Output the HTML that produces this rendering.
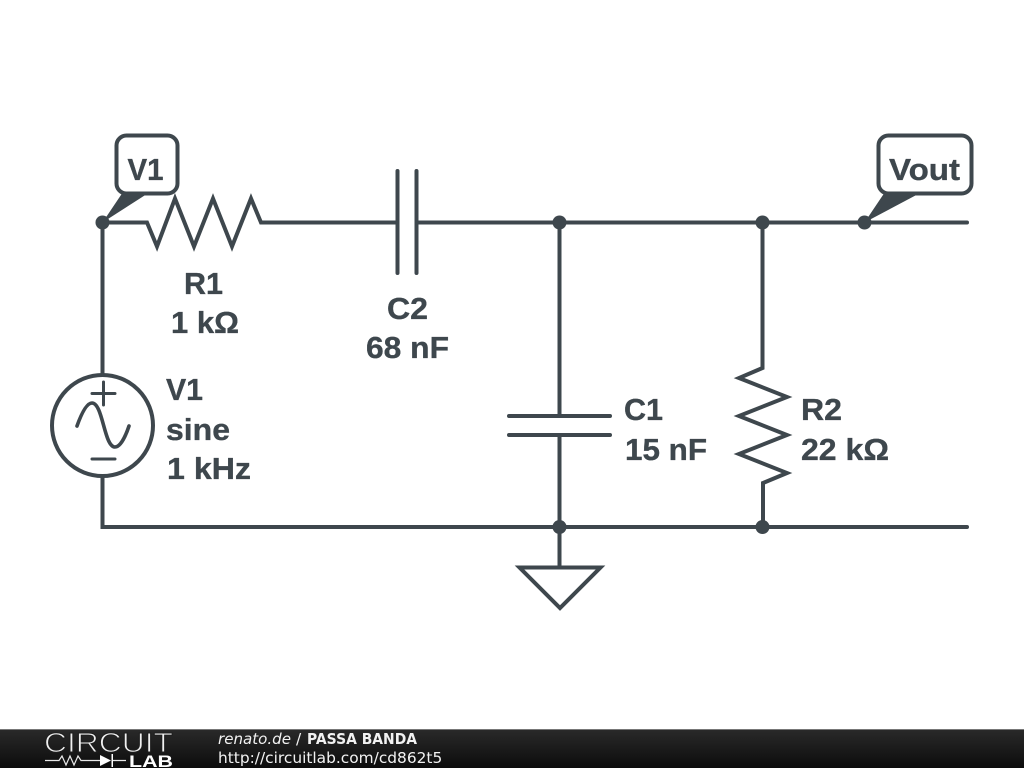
<!DOCTYPE html>
<html><head><meta charset="utf-8"><style>
html,body{margin:0;padding:0;background:#fff;width:1024px;height:768px;overflow:hidden}
svg{display:block}
.t{font-family:"Liberation Sans",sans-serif;font-weight:bold;font-size:31px;fill:#3e474d;stroke:#3e474d;stroke-width:.35px}
.f{font-family:"DejaVu Sans",sans-serif;font-size:15.4px;fill:#f2f2f2}
</style></head><body>
<svg width="1024" height="768" viewBox="0 0 1024 768" xmlns="http://www.w3.org/2000/svg">
<defs><linearGradient id="g" x1="0" y1="0" x2="0" y2="1"><stop offset="0" stop-color="#2a2a2a"/><stop offset="1" stop-color="#0c0c0c"/></linearGradient></defs>
<rect width="1024" height="768" fill="#fff"/>
<g fill="none" stroke="#3e474d" stroke-width="4" stroke-linecap="round" stroke-linejoin="miter">
<path d="M102.5 222.5H147L157 246.5L175 198.5L194 246.5L213 198.5L232 246.5L251 198.5L261 222.5H397"/>
<path d="M416.5 222.5H967"/>
<path d="M397.5 171V273M416.5 171V273"/>
<path d="M102.5 222.5V375M102.5 476V527H967"/>
<circle cx="102.5" cy="425.5" r="50.5"/>
<path d="M92 393.5H115M103.500 382V405M92 459H115" stroke-width="3"/>
<path d="M77 426C82 412 87 403 92 403C103 403 104 447 115 447C120 447 125 438 129 426" stroke-width="3.6"/>
<path d="M559.5 222.5V416M559.5 435V567"/>
<path d="M509 416H610M509 435H610"/>
<path d="M519.5 567.5H600.5L560 608Z"/>
<path d="M762.5 222.5V368L739 378L787 397L739 416L787 435L739 454L787 473L763 483V527"/>
<rect x="116.500" y="135.500" width="61" height="58" rx="10" fill="#fff"/>
<rect x="878.500" y="135.500" width="93" height="58" rx="10" fill="#fff"/>
</g>
<g fill="#3e474d">
<path d="M102.500 222.500L123 192H150Z"/>
<path d="M864.500 222.500L885 192H922Z"/>
<circle cx="102.500" cy="222.500" r="7"/>
<circle cx="559.500" cy="222.500" r="7"/>
<circle cx="762.500" cy="222.500" r="7"/>
<circle cx="864.500" cy="222.500" r="7"/>
<circle cx="559.500" cy="527" r="7"/>
<circle cx="762.500" cy="527" r="7"/>
</g>
<text class="t" x="127.500" y="180" textLength="36" lengthAdjust="spacingAndGlyphs">V1</text>
<text class="t" x="889" y="180" textLength="71" lengthAdjust="spacingAndGlyphs">Vout</text>
<text class="t" x="184" y="294" textLength="39" lengthAdjust="spacingAndGlyphs">R1</text>
<text class="t" x="171" y="333" textLength="68" lengthAdjust="spacingAndGlyphs">1 kΩ</text>
<text class="t" x="387" y="319" textLength="41" lengthAdjust="spacingAndGlyphs">C2</text>
<text class="t" x="366" y="358" textLength="83" lengthAdjust="spacingAndGlyphs">68 nF</text>
<text class="t" x="166" y="400" textLength="37" lengthAdjust="spacingAndGlyphs">V1</text>
<text class="t" x="166" y="440" textLength="64" lengthAdjust="spacingAndGlyphs">sine</text>
<text class="t" x="167" y="479" textLength="84" lengthAdjust="spacingAndGlyphs">1 kHz</text>
<text class="t" x="624" y="420" textLength="39" lengthAdjust="spacingAndGlyphs">C1</text>
<text class="t" x="625" y="460" textLength="82" lengthAdjust="spacingAndGlyphs">15 nF</text>
<text class="t" x="801" y="420" textLength="41" lengthAdjust="spacingAndGlyphs">R2</text>
<text class="t" x="801" y="460" textLength="88" lengthAdjust="spacingAndGlyphs">22 kΩ</text>
<rect x="0" y="729" width="1024" height="39" fill="url(#g)"/>
<rect x="0" y="729" width="1024" height="1" fill="#777"/>
<text x="44" y="752" font-family="'Liberation Sans',sans-serif" font-size="27.500" fill="#f0f0f0" stroke="#1e1e1e" stroke-width="1" textLength="129" lengthAdjust="spacingAndGlyphs">CIRCUIT</text>
<path d="M45 760.500H59L62 756L66 765L70 756L74 765L78 756L81 760.500H100M113 760.500H126" fill="none" stroke="#e8e8e8" stroke-width="1.200"/>
<path d="M100 755V766L111 760.500ZM111.500 754V767H113V754Z" fill="#fff"/>
<text x="129" y="767" font-family="'Liberation Sans',sans-serif" font-weight="bold" font-size="17" fill="#fff" textLength="44" lengthAdjust="spacingAndGlyphs">LAB</text>
<text class="f" x="218" y="744" font-style="italic" textLength="73" lengthAdjust="spacingAndGlyphs">renato.de</text>
<text class="f" x="296" y="744">/</text>
<text class="f" x="307" y="744" font-weight="bold" textLength="110" lengthAdjust="spacingAndGlyphs">PASSA BANDA</text>
<text class="f" x="218" y="763">http://circuitlab.com/cd862t5</text>
</svg>
</body></html>
